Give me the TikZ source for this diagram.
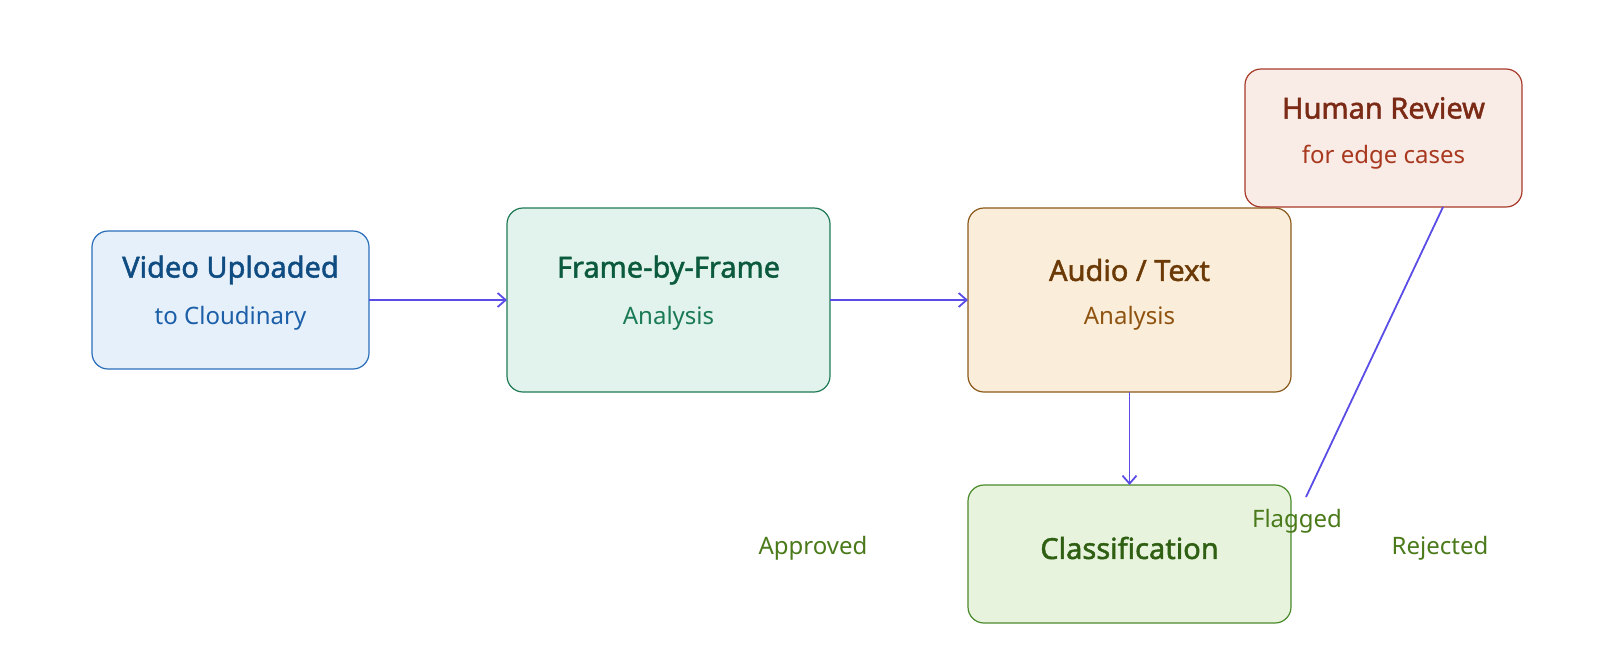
\documentclass[tikz,border=0pt]{standalone}
\usepackage{fontspec}
\setmainfont{Noto Sans}
\newfontfamily\ttlfont{Noto Sans}[FakeBold=1.6]
\usetikzlibrary{arrows.meta}
\definecolor{edge}{HTML}{5A4DE6}
\definecolor{lbl}{HTML}{4A7A1A}
\begin{document}
\begin{tikzpicture}[x=0.5pt,y=-0.5pt,
  box/.style={draw, rounded corners=8pt, line width=0.6pt, outer sep=0pt},
  ttl/.style={font=\fontsize{14.5}{17}\selectfont\ttlfont},
  sub/.style={font=\fontsize{12}{14}\selectfont},
  lab/.style={font=\fontsize{12}{14}\selectfont, text=lbl},
  conn/.style={draw=edge, line width=0.9pt},
  arr/.style={conn, -{Straight Barb[length=4pt,width=7pt]}}]
\node[box, fill={rgb,255:red,230;green,240;blue,250}, draw={rgb,255:red,42;green,110;blue,187}, minimum width=138.5pt, minimum height=69pt] (v) at (230.5,300) {};
\node[box, fill={rgb,255:red,225;green,243;blue,236}, draw={rgb,255:red,31;green,122;blue,85}, minimum width=161.5pt, minimum height=92pt] (f) at (668.5,300) {};
\node[box, fill={rgb,255:red,250;green,238;blue,219}, draw={rgb,255:red,138;green,90;blue,26}, minimum width=161.5pt, minimum height=92pt] (a) at (1129.5,300) {};
\node[box, fill={rgb,255:red,249;green,235;blue,230}, draw={rgb,255:red,168;green,58;blue,42}, minimum width=138.5pt, minimum height=69pt] (h) at (1383.5,138) {};
\node[box, fill={rgb,255:red,232;green,243;blue,222}, draw={rgb,255:red,74;green,138;blue,42}, minimum width=161.5pt, minimum height=69pt] (c) at (1129.5,554) {};
\node[ttl, text={rgb,255:red,15;green,76;blue,129}] (vt) at (230.5,270) {Video Uploaded};
\node[sub, text={rgb,255:red,28;green,95;blue,168}] (vs) at (230.5,318) {to Cloudinary};
\node[ttl, text={rgb,255:red,11;green,90;blue,61}] (ft) at (668.5,270) {Frame-by-Frame};
\node[sub, text={rgb,255:red,26;green,122;blue,85}] (fs) at (668.5,318) {Analysis};
\node[ttl, text={rgb,255:red,107;green,58;blue,6}] (at) at (1129.5,270) {Audio / Text};
\node[sub, text={rgb,255:red,143;green,83;blue,16}] (as) at (1129.5,318) {Analysis};
\node[ttl, text={rgb,255:red,122;green,42;blue,21}] (ht) at (1383.5,108) {Human Review};
\node[sub, text={rgb,255:red,168;green,57;blue,31}] (hs) at (1383.5,157) {for edge cases};
\node[ttl, text={rgb,255:red,47;green,95;blue,18}] (ct) at (1129.5,548) {Classification};
\node[lab] (l1) at (813,548) {Approved};
\node[lab] (l2) at (1297,521) {Flagged};
\node[lab] (l3) at (1440,548) {Rejected};
\coordinate (fe) at (1306,497);
\coordinate (hb) at (1443,207);
\draw[arr] (v.east) -- (f.west);
\draw[arr] (f.east) -- (a.west);
\draw[arr] (a.south) -- (c.north);
\draw[conn] (hb) -- (fe);
\pgfresetboundingbox
\useasboundingbox (0,0) rectangle (1600,659);
\end{tikzpicture}
\end{document}
